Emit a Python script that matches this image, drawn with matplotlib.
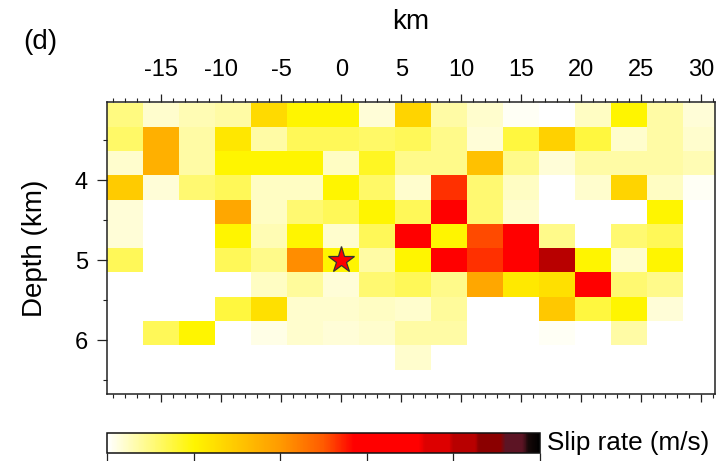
import numpy as np
import matplotlib
matplotlib.use("Agg")
import matplotlib.pyplot as plt
from matplotlib.colors import LinearSegmentedColormap, Normalize
from matplotlib.ticker import MultipleLocator, FixedLocator, NullFormatter
import matplotlib.colorbar as mcolorbar

plt.rcParams["font.family"] = ["Liberation Sans", "DejaVu Sans"]
plt.rcParams["axes.unicode_minus"] = False

# Subfault centres along strike (km) and down dip (km)
strike_km = [-18, -15, -12, -9, -6, -3, 0, 3, 6, 9, 12, 15, 18, 21, 24, 27, 30]
depth_km = [3.18, 3.48, 3.78, 4.09, 4.39, 4.70, 5.00, 5.30, 5.61, 5.91, 6.22, 6.52]

# Peak slip rate on each subfault (m/s), one list per depth row
slip_rows = [
    [0.25, 0.10, 0.15, 0.18, 0.65, 0.50, 0.50, 0.08, 0.68, 0.18, 0.10, 0.02, 0.00, 0.12, 0.50, 0.18, 0.08],
    [0.30, 0.88, 0.18, 0.58, 0.18, 0.33, 0.33, 0.30, 0.33, 0.23, 0.08, 0.38, 0.70, 0.38, 0.10, 0.18, 0.10],
    [0.10, 0.88, 0.18, 0.50, 0.50, 0.50, 0.12, 0.43, 0.23, 0.23, 0.79, 0.23, 0.08, 0.18, 0.18, 0.18, 0.15],
    [0.73, 0.08, 0.28, 0.33, 0.12, 0.12, 0.50, 0.30, 0.10, 1.33, 0.28, 0.12, 0.00, 0.10, 0.68, 0.12, 0.02],
    [0.08, 0.00, 0.00, 0.93, 0.12, 0.28, 0.33, 0.50, 0.33, 1.50, 0.28, 0.10, 0.00, 0.00, 0.00, 0.50, 0.00],
    [0.08, 0.00, 0.00, 0.50, 0.15, 0.50, 0.10, 0.33, 1.50, 0.50, 1.28, 1.50, 0.23, 0.00, 0.28, 0.33, 0.00],
    [0.33, 0.00, 0.00, 0.33, 0.23, 1.05, 0.50, 0.18, 0.50, 1.45, 1.33, 1.50, 2.05, 0.50, 0.10, 0.50, 0.00],
    [0.00, 0.00, 0.00, 0.00, 0.12, 0.20, 0.08, 0.28, 0.33, 0.23, 0.93, 0.57, 0.62, 1.50, 0.28, 0.23, 0.00],
    [0.00, 0.00, 0.00, 0.38, 0.62, 0.10, 0.10, 0.12, 0.10, 0.20, 0.00, 0.00, 0.75, 0.38, 0.50, 0.08, 0.00],
    [0.00, 0.33, 0.50, 0.00, 0.05, 0.10, 0.08, 0.10, 0.18, 0.18, 0.00, 0.00, 0.02, 0.00, 0.18, 0.00, 0.00],
    [0.00, 0.00, 0.00, 0.00, 0.00, 0.00, 0.00, 0.00, 0.10, 0.00, 0.00, 0.00, 0.00, 0.00, 0.00, 0.00, 0.00],
    [0.00, 0.00, 0.00, 0.00, 0.00, 0.00, 0.00, 0.00, 0.00, 0.00, 0.00, 0.00, 0.00, 0.00, 0.00, 0.00, 0.00],
]

hypocenter = (0.0, 5.0)
slip_max = 2.5
cbar_ticks = [0.0, 0.5, 1.0, 1.5, 2.0, 2.5]

x_major = [-15, -10, -5, 0, 5, 10, 15, 20, 25, 30]
y_major = [4, 5, 6]

# White -> yellow -> orange -> red -> black, stepped at the dark end
stops = [
    (0.00, "#ffffff"), (0.20, "#fff500"), (0.40, "#ff9a00"), (0.50, "#ff5a00"),
    (0.57, "#ff0000"), (0.72, "#ff0000"), (0.735, "#dd0000"), (0.79, "#dd0000"),
    (0.80, "#b80000"), (0.85, "#b80000"), (0.86, "#8b0000"), (0.91, "#8b0000"),
    (0.92, "#5c1424"), (0.96, "#5c1424"), (0.975, "#150808"), (1.00, "#000000"),
]
cmap = LinearSegmentedColormap.from_list("sliprate", stops, N=512)
norm = Normalize(vmin=0.0, vmax=slip_max)

W, H = 717, 461
fig = plt.figure(figsize=(W / 100, H / 100), dpi=100)

ax_l, ax_r, ax_t, ax_b = 107.3, 714.5, 102.3, 394.0
ax = fig.add_axes([ax_l / W, (H - ax_b) / H, (ax_r - ax_l) / W, (ax_b - ax_t) / H])

slip = np.array(slip_rows)
ax.pcolormesh(strike_km, depth_km, slip, cmap=cmap, norm=norm, shading="nearest")
ax.plot(*hypocenter, marker="*", markersize=20, color="#ff0000",
        markeredgecolor="#333333", markeredgewidth=0.9, zorder=5)

ax.set_xlim(-19.5, 31.1)
ax.set_ylim(6.672, 3.024)

ax.xaxis.set_major_locator(FixedLocator(x_major))
ax.xaxis.set_minor_locator(MultipleLocator(1))
ax.yaxis.set_major_locator(FixedLocator(y_major))
ax.yaxis.set_minor_locator(MultipleLocator(0.5))
ax.yaxis.set_minor_formatter(NullFormatter())

ax.tick_params(axis="x", which="both", direction="out", top=True, bottom=True,
               labeltop=True, labelbottom=False, color="#222222")
ax.tick_params(axis="x", which="major", length=6, width=0.9, labelsize=17, pad=9)
ax.tick_params(axis="x", which="minor", length=3, width=0.8)
ax.tick_params(axis="y", which="both", direction="out", left=True, right=False, color="#222222")
ax.tick_params(axis="y", which="major", length=7, width=0.9, labelsize=17, pad=7)
ax.tick_params(axis="y", which="minor", length=3, width=0.8)

for s in ax.spines.values():
    s.set_linewidth(1.1)
    s.set_color("#222222")

ax.set_ylabel("Depth (km)", fontsize=20, labelpad=19)
ax.set_title("km", fontsize=20, pad=53)
fig.text(40 / W, 1 - 42 / H, "(d)", fontsize=20, ha="center", va="center")

# Colour scale
cb_l, cb_r, cb_t, cb_b = 107.3, 540.0, 432.7, 453.3
cax = fig.add_axes([cb_l / W, (H - cb_b) / H, (cb_r - cb_l) / W, (cb_b - cb_t) / H])
cb = mcolorbar.ColorbarBase(cax, cmap=cmap, norm=norm, orientation="horizontal", ticks=cbar_ticks)
cb.outline.set_linewidth(1.1)
cb.outline.set_edgecolor("#111111")
cax.tick_params(axis="x", direction="out", length=9, width=0.9, color="#222222")
cax.set_xticklabels([])
fig.text(547 / W, 1 - 443 / H, "Slip rate (m/s)", fontsize=18.8, ha="left", va="center")

fig.savefig("out.png", dpi=100)
